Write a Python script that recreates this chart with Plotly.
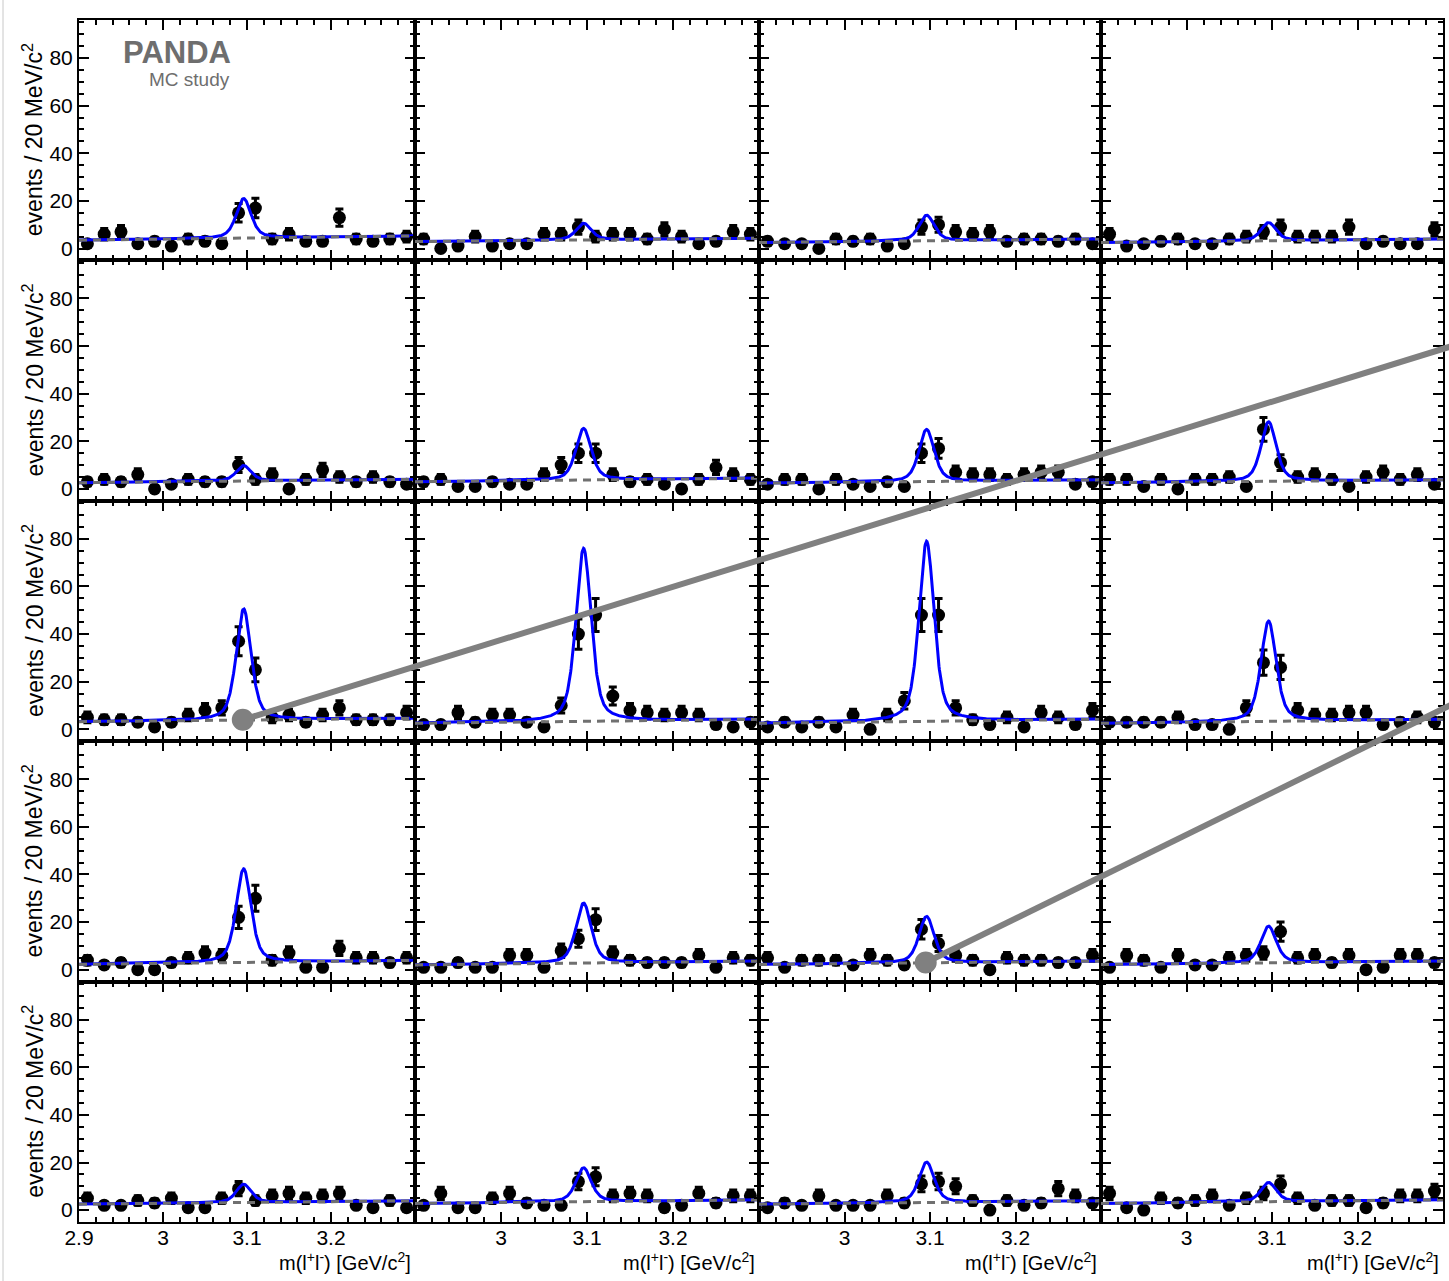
import numpy as np
import plotly.graph_objects as go

# Dilepton invariant-mass bins (centres, GeV/c^2), 20 MeV wide
mass_bins = [2.91, 2.93, 2.95, 2.97, 2.99, 3.01, 3.03, 3.05, 3.07, 3.09,
             3.11, 3.13, 3.15, 3.17, 3.19, 3.21, 3.23, 3.25, 3.27, 3.29]

# Events per bin, one list per panel (left to right) for each row
counts_row1 = [
    [2, 6, 7, 2, 3, 1, 4, 3, 2, 15, 17, 4, 6, 3, 3, 13, 4, 3, 4, 5],
    [4, 0, 1, 5, 1, 2, 2, 6, 6, 9, 5, 6, 6, 4, 8, 5, 2, 3, 7, 6],
    [3, 2, 2, 0, 4, 3, 4, 1, 2, 9, 10, 7, 6, 7, 3, 4, 4, 3, 4, 2],
    [6, 1, 2, 3, 4, 2, 2, 4, 5, 7, 9, 5, 5, 5, 9, 2, 3, 2, 2, 8],
]
counts_row2 = [
    [3, 4, 3, 6, 0, 2, 4, 3, 3, 10, 4, 6, 0, 4, 8, 5, 3, 5, 3, 2],
    [3, 4, 1, 1, 3, 2, 2, 6, 10, 15, 15, 6, 3, 4, 2, 0, 4, 9, 6, 4],
    [2, 4, 4, 0, 4, 2, 1, 3, 1, 15, 17, 7, 6, 6, 4, 6, 7, 7, 2, 3],
    [4, 4, 1, 4, 0, 4, 4, 5, 1, 25, 11, 5, 6, 4, 1, 5, 7, 4, 6, 2],
]
counts_row3 = [
    [5, 4, 4, 3, 1, 3, 6, 8, 9, 37, 25, 5, 6, 3, 6, 9, 4, 4, 4, 7],
    [2, 2, 7, 3, 6, 6, 3, 1, 10, 40, 48, 14, 8, 7, 6, 7, 6, 2, 1, 3],
    [1, 3, 1, 3, 1, 6, 0, 6, 12, 48, 48, 9, 4, 2, 5, 1, 7, 5, 2, 8],
    [3, 3, 3, 3, 5, 2, 2, 0, 9, 28, 26, 8, 6, 6, 7, 7, 2, 3, 5, 3],
]
counts_row4 = [
    [4, 2, 3, 0, 0, 3, 5, 7, 6, 22, 30, 4, 7, 1, 1, 9, 5, 5, 3, 5],
    [1, 1, 3, 1, 1, 6, 6, 1, 8, 13, 21, 7, 4, 3, 3, 3, 6, 1, 5, 4],
    [5, 1, 4, 4, 4, 2, 6, 4, 2, 17, 11, 6, 4, 0, 5, 4, 4, 3, 3, 6],
    [1, 6, 4, 1, 6, 2, 2, 5, 6, 7, 16, 5, 6, 3, 6, 0, 1, 6, 6, 3],
]
counts_row5 = [
    [5, 2, 2, 4, 3, 5, 1, 1, 5, 9, 4, 6, 7, 5, 6, 7, 2, 1, 4, 1],
    [2, 7, 1, 1, 5, 7, 3, 2, 2, 12, 14, 6, 7, 6, 1, 2, 7, 3, 6, 6],
    [1, 3, 2, 6, 2, 2, 2, 6, 3, 11, 12, 10, 4, 0, 4, 2, 3, 9, 6, 3],
    [7, 1, 0, 5, 3, 4, 6, 2, 5, 7, 11, 5, 2, 4, 4, 1, 3, 6, 6, 8],
]
counts = [counts_row1, counts_row2, counts_row3, counts_row4, counts_row5]

# Fit results per panel: linear background at 2.9 and 3.3 GeV/c^2, and total height at the peak
bkg_low = [[3.5, 2.9, 2.5, 2.5], [2.6, 3.0, 2.4, 2.6], [3.2, 2.5, 2.5, 2.5],
           [2.2, 2.0, 2.2, 2.2], [2.5, 2.8, 2.5, 2.8]]
bkg_high = [[5.3, 4.3, 4.0, 4.0], [4.0, 4.5, 3.8, 3.8], [4.6, 4.2, 4.2, 4.2],
            [3.9, 3.6, 3.6, 3.6], [3.9, 4.3, 3.9, 4.3]]
peak_top = [[21.0, 10.6, 14.0, 10.9], [9.8, 25.4, 25.0, 28.2], [50.6, 76.0, 79.0, 45.5],
            [42.4, 28.0, 22.4, 18.3], [10.9, 17.8, 20.2, 11.6]]

# Axis tick labels
x_ticks_first = [2.9, 3.0, 3.1, 3.2]
x_labels_first = ["2.9", "3", "3.1", "3.2"]
x_ticks_other = [3.0, 3.1, 3.2]
x_labels_other = ["3", "3.1", "3.2"]
y_ticks = [0, 20, 40, 60, 80]
y_labels = ["0", "20", "40", "60", "80"]

# J/psi line shape (pseudo-Voigt)
PEAK_MASS = 3.096
PEAK_FWHM = 0.021
LORENTZ_FRACTION = 0.5

X_MIN, X_MAX = 2.9, 3.3
Y_MIN, Y_MAX = -5.0, 96.0

W, H = 1449, 1281
col_px = [79, 415, 759, 1101, 1443]
row_px = [20, 260.4, 500.8, 741.2, 981.6, 1222]

FONT = "Liberation Sans, Arial, Helvetica, sans-serif"
GREY = "#808080"


def line_shape(x):
    g = PEAK_FWHM / 2.0
    s = PEAK_FWHM / 2.3548
    lor = 1.0 / (1.0 + ((x - PEAK_MASS) / g) ** 2)
    gau = np.exp(-0.5 * ((x - PEAK_MASS) / s) ** 2)
    return LORENTZ_FRACTION * lor + (1 - LORENTZ_FRACTION) * gau


def background(x, lo, hi):
    return lo + (hi - lo) * (x - X_MIN) / (X_MAX - X_MIN)


def to_paper(r, c, x, y):
    px = col_px[c] + (x - X_MIN) / (X_MAX - X_MIN) * (col_px[c + 1] - col_px[c])
    py = row_px[r + 1] - (y - Y_MIN) / (Y_MAX - Y_MIN) * (row_px[r + 1] - row_px[r])
    return px / W, 1 - py / H


fig = go.Figure()
xfine = np.linspace(X_MIN, X_MAX, 801)
mass = np.array(mass_bins)

for r in range(5):
    for c in range(4):
        k = r * 4 + c + 1
        xa = "x" if k == 1 else f"x{k}"
        ya = "y" if k == 1 else f"y{k}"
        n = np.array(counts[r][c], dtype=float)
        lo, hi = bkg_low[r][c], bkg_high[r][c]
        bkg = background(xfine, lo, hi)
        amp = peak_top[r][c] - background(PEAK_MASS, lo, hi)
        total = bkg + amp * line_shape(xfine)

        fig.add_trace(go.Scatter(
            x=mass, y=n, mode="markers", xaxis=xa, yaxis=ya,
            marker=dict(color="black", size=13),
            error_y=dict(type="data", array=np.sqrt(n), color="black",
                         thickness=3, width=4),
            showlegend=False, hoverinfo="skip"))
        fig.add_trace(go.Scatter(
            x=xfine, y=total, mode="lines", xaxis=xa, yaxis=ya,
            line=dict(color="#0000ff", width=3), showlegend=False, hoverinfo="skip"))
        fig.add_trace(go.Scatter(
            x=xfine, y=bkg, mode="lines", xaxis=xa, yaxis=ya,
            line=dict(color="#707070", width=3, dash="8px,6px"), showlegend=False,
            hoverinfo="skip"))

        bottom = r == 4
        axis_common = dict(showline=True, linecolor="black", linewidth=2,
                           mirror="allticks", ticks="inside", tickcolor="black",
                           tickwidth=1.5, showgrid=False, zeroline=False,
                           automargin=False,
                           tickfont=dict(family=FONT, size=21, color="black"))
        xaxis = dict(
            domain=[col_px[c] / W, col_px[c + 1] / W], anchor=ya,
            range=[X_MIN, X_MAX], ticklen=10,
            minor=dict(dtick=0.02, tick0=2.9, ticks="inside", ticklen=5,
                       tickcolor="black", tickwidth=1.5),
            **axis_common)
        if bottom:
            xaxis.update(tickvals=x_ticks_first if c == 0 else x_ticks_other,
                         ticktext=x_labels_first if c == 0 else x_labels_other,
                         showticklabels=True, ticklabelstandoff=-4)
        else:
            xaxis.update(tickvals=[3.0, 3.1, 3.2], showticklabels=False)
        fig.layout[f"xaxis{k}"] = xaxis

        yaxis = dict(
            domain=[1 - row_px[r + 1] / H, 1 - row_px[r] / H], anchor=xa,
            range=[Y_MIN, Y_MAX], tickvals=y_ticks, ticklen=10,
            minor=dict(dtick=5, tick0=0, ticks="inside", ticklen=5,
                       tickcolor="black", tickwidth=1.5),
            **axis_common)
        if c == 0:
            yaxis.update(ticktext=y_labels, showticklabels=True)
        else:
            yaxis.update(showticklabels=False)
        fig.layout[f"yaxis{k}"] = yaxis

annotations = []
for r in range(5):
    annotations.append(dict(
        text="events / 20 MeV/c<sup>2</sup>", xref="paper", yref="paper",
        x=33 / W, y=1 - (row_px[r] + row_px[r + 1]) / 2 / H, textangle=-90,
        showarrow=False, xanchor="center", yanchor="middle",
        font=dict(family=FONT, size=23, color="black")))
for c in range(4):
    annotations.append(dict(
        text="m(l<sup>+</sup>l<sup>-</sup>) [GeV/c<sup>2</sup>]", xref="paper",
        yref="paper", x=(col_px[c + 1] - 2) / W, y=1 - 1261 / H, showarrow=False,
        xanchor="right", yanchor="middle",
        font=dict(family=FONT, size=20, color="black")))
annotations.append(dict(text="<b>PANDA</b>", xref="paper", yref="paper",
                        x=233 / W, y=1 - 52 / H, showarrow=False, xanchor="right",
                        yanchor="middle", font=dict(family=FONT, size=31, color="#6e6e6e")))
annotations.append(dict(text="MC study", xref="paper", yref="paper",
                        x=232 / W, y=1 - 80 / H, showarrow=False, xanchor="right",
                        yanchor="middle", font=dict(family=FONT, size=19, color="#6e6e6e")))

# Grey call-out lines leaving the figure on the right
callouts = [
    dict(panel=(2, 0), x=3.095, y=4.0, end=(1.02, 0.7361)),
    dict(panel=(3, 2), x=3.095, y=3.0, end=(1.02, 0.4600)),
]
shapes = []
for co in callouts:
    r, c = co["panel"]
    px0, py0 = to_paper(r, c, co["x"], co["y"])
    shapes.append(dict(type="line", xref="paper", yref="paper", x0=px0, y0=py0,
                       x1=co["end"][0], y1=co["end"][1],
                       line=dict(color=GREY, width=6), layer="above"))
    rx, ry = 11 / W, 11 / H
    shapes.append(dict(type="circle", xref="paper", yref="paper",
                       x0=px0 - rx, x1=px0 + rx, y0=py0 - ry, y1=py0 + ry,
                       fillcolor=GREY, line=dict(color=GREY, width=0), layer="above"))
shapes.append(dict(type="line", xref="paper", yref="paper", x0=3 / W, x1=3 / W,
                   y0=0, y1=1, line=dict(color="#c8c8c8", width=1)))

fig.update_layout(
    width=W, height=H,
    margin=dict(l=0, r=0, t=0, b=0, pad=0, autoexpand=False),
    paper_bgcolor="white", plot_bgcolor="white",
    annotations=annotations, shapes=shapes, showlegend=False,
    font=dict(family=FONT, color="black"))

fig.write_html("out.html")
